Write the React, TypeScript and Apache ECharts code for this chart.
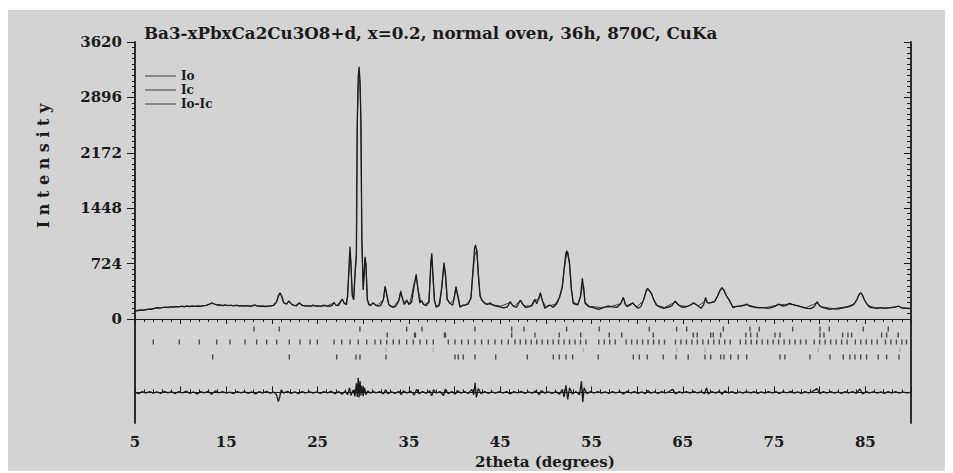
import React, { useEffect, useRef } from "react";
import * as echarts from "echarts";

const titleText = "Ba3-xPbxCa2Cu3O8+d, x=0.2, normal oven, 36h, 870C, CuKa";
const xTitle = "2theta (degrees)";
const yTitle = "I n t e n s i t y";
const yTicks = [0, 724, 1448, 2172, 2896, 3620];
const xLabelValues = [5, 15, 25, 35, 45, 55, 65, 75, 85];

// observed intensity [2theta, counts]
const io: number[][] = [
  [5.0,110],[5.3,105],[5.6,118],[5.9,112],[6.2,122],[6.5,128],[6.8,125],[7.1,138],[7.4,148],[7.7,142],
  [8.0,150],[8.3,156],[8.6,148],[8.9,160],[9.2,155],[9.5,163],[9.8,158],[10.1,168],[10.4,160],[10.7,170],
  [11.0,163],[11.3,172],[11.6,166],[11.9,170],[12.2,164],[12.5,175],[12.8,178],[13.1,190],[13.4,212],[13.7,196],
  [14.0,182],[14.3,186],[14.6,176],[14.9,184],[15.2,175],[15.5,182],[15.8,172],[16.1,180],[16.4,170],[16.7,176],
  [17.0,168],[17.3,174],[17.6,166],[17.9,175],[18.1,186],[18.4,170],[18.7,164],[19.0,170],[19.3,162],[19.6,168],
  [19.9,172],[20.2,178],[20.5,220],[20.75,310],[20.9,336],[21.05,300],[21.3,210],[21.6,196],[21.85,238],[22.1,200],
  [22.4,178],[22.7,172],[23.0,213],[23.3,180],[23.6,168],[23.9,174],[24.2,166],[24.5,183],[24.8,170],[25.1,172],
  [25.4,165],[25.7,183],[26.0,170],[26.3,166],[26.6,178],[26.8,218],[27.0,180],[27.3,176],[27.5,220],[27.7,261],
  [27.9,210],[28.1,188],[28.3,300],[28.45,700],[28.55,945],[28.65,720],[28.8,300],[28.95,250],[29.1,600],[29.25,862],
  [29.34,2535],[29.45,3170],[29.55,3297],[29.65,3100],[29.74,2644],[29.85,1033],[30.0,380],[30.1,600],[30.2,814],[30.3,700],
  [30.45,250],[30.6,190],[30.8,175],[31.1,213],[31.3,185],[31.6,170],[31.9,175],[32.2,250],[32.4,431],[32.55,330],
  [32.8,190],[33.0,165],[33.3,153],[33.6,170],[33.9,240],[34.1,349],[34.3,270],[34.5,190],[34.76,248],[35.0,190],
  [35.3,220],[35.6,450],[35.8,584],[36.0,380],[36.2,210],[36.4,240],[36.6,190],[36.9,175],[37.2,220],[37.4,700],
  [37.5,858],[37.6,650],[37.8,250],[38.0,153],[38.3,175],[38.6,400],[38.84,736],[39.0,600],[39.2,260],[39.5,205],
  [39.8,180],[40.0,300],[40.16,422],[40.3,330],[40.6,153],[40.9,180],[41.2,183],[41.5,195],[41.8,280],[42.0,600],
  [42.2,930],[42.3,967],[42.45,880],[42.6,600],[42.8,300],[43.0,248],[43.3,205],[43.6,190],[43.9,213],[44.2,180],
  [44.6,170],[45.0,160],[45.4,145],[45.8,160],[46.1,226],[46.4,170],[46.8,150],[47.2,248],[47.5,190],[47.8,150],
  [48.1,160],[48.4,170],[48.8,257],[49.0,200],[49.2,260],[49.4,344],[49.6,250],[49.9,140],[50.4,183],[50.8,153],
  [51.2,200],[51.5,283],[51.8,422],[52.0,650],[52.2,860],[52.3,893],[52.45,820],[52.6,728],[52.8,400],[53.0,205],
  [53.3,190],[53.5,183],[53.8,300],[54.0,532],[54.15,380],[54.3,205],[54.7,161],[55.2,150],[55.8,127],[56.3,150],
  [56.8,170],[57.3,158],[57.8,153],[58.2,200],[58.5,283],[58.7,190],[58.9,161],[59.2,180],[59.5,213],[59.8,170],
  [60.1,140],[60.4,160],[60.7,250],[61.0,370],[61.15,401],[61.3,380],[61.6,327],[61.8,260],[62.1,183],[62.4,160],
  [62.9,140],[63.4,155],[63.8,170],[64.15,235],[64.5,190],[64.9,153],[65.4,160],[65.8,180],[66.2,213],[66.5,185],
  [67.0,140],[67.3,190],[67.5,283],[67.7,210],[68.1,213],[68.5,230],[68.8,300],[69.1,380],[69.3,409],[69.5,380],
  [69.8,300],[70.1,248],[70.5,148],[70.9,165],[71.3,170],[71.7,180],[72.0,196],[72.3,170],[72.7,160],[73.1,150],
  [73.5,145],[73.9,150],[74.3,140],[74.7,150],[75.1,165],[75.5,196],[75.9,170],[76.3,175],[76.7,205],[77.0,190],
  [77.4,179],[77.8,165],[78.2,150],[78.6,140],[79.0,135],[79.4,160],[79.7,226],[80.0,170],[80.3,153],[80.7,140],
  [81.1,127],[81.5,135],[81.9,130],[82.3,140],[82.7,150],[83.1,160],[83.5,175],[83.8,200],[84.1,260],[84.3,320],
  [84.5,344],[84.7,310],[84.9,248],[85.2,190],[85.5,153],[85.9,145],[86.3,140],[86.7,150],[87.1,140],[87.5,145],
  [87.9,150],[88.3,155],[88.6,170],[88.9,150],[89.2,140],[89.6,140],[90.0,135],
];

// calculated intensity
const ic: number[][] = [
  [5.0,112],[6.0,118],[7.0,135],[8.0,150],[9.0,158],[10.0,163],[11.0,166],[12.0,168],[12.8,176],[13.2,195],
  [13.4,205],[13.7,192],[14.2,180],[15.0,178],[16.0,174],[17.0,171],[18.0,172],[18.1,180],[18.3,172],[19.0,167],
  [20.0,170],[20.5,230],[20.75,330],[20.9,345],[21.05,310],[21.3,210],[21.6,195],[21.85,230],[22.1,195],[22.5,175],
  [23.0,205],[23.3,178],[24.0,170],[25.0,170],[26.0,170],[26.8,210],[27.1,178],[27.7,255],[27.95,205],[28.2,190],
  [28.45,650],[28.55,880],[28.65,740],[28.8,320],[28.95,260],[29.1,560],[29.25,800],[29.34,2450],[29.45,3020],[29.55,3250],
  [29.65,3050],[29.74,2580],[29.85,1000],[30.0,420],[30.1,560],[30.2,780],[30.3,720],[30.45,260],[30.7,180],[31.1,205],
  [31.5,175],[32.2,250],[32.4,410],[32.55,340],[32.8,185],[33.3,160],[33.9,245],[34.1,370],[34.3,260],[34.6,200],
  [34.76,240],[35.1,200],[35.6,480],[35.8,560],[36.0,390],[36.3,220],[36.4,235],[36.7,185],[37.2,230],[37.4,740],
  [37.5,830],[37.6,620],[37.8,240],[38.0,165],[38.4,190],[38.6,430],[38.84,700],[39.0,560],[39.2,250],[39.5,200],
  [39.9,250],[40.16,400],[40.4,300],[40.6,165],[41.2,180],[41.8,260],[42.0,580],[42.2,820],[42.3,860],[42.45,900],
  [42.6,580],[42.8,300],[43.0,240],[43.5,200],[44.0,190],[45.0,165],[46.1,215],[46.5,165],[47.2,235],[47.6,170],
  [48.5,170],[48.8,245],[49.2,255],[49.4,330],[49.6,240],[50.0,165],[51.0,190],[51.5,280],[51.8,400],[52.0,640],
  [52.2,790],[52.3,860],[52.45,870],[52.6,700],[52.8,380],[53.0,220],[53.5,190],[53.8,290],[54.0,420],[54.15,430],
  [54.3,220],[54.8,165],[56.0,150],[57.0,158],[58.2,200],[58.5,270],[58.8,175],[59.5,205],[60.0,160],[60.7,240],
  [61.0,360],[61.15,390],[61.3,375],[61.6,320],[61.8,255],[62.2,180],[63.0,150],[64.15,220],[64.6,175],[65.5,165],
  [66.2,205],[66.7,170],[67.5,240],[67.8,205],[68.5,225],[68.8,290],[69.1,370],[69.3,400],[69.5,370],[69.8,295],
  [70.1,240],[70.5,160],[71.5,170],[72.0,185],[73.0,155],[74.0,148],[75.5,185],[76.7,195],[77.5,175],[78.5,148],
  [79.7,210],[80.2,160],[81.5,135],[83.0,160],[83.8,200],[84.1,255],[84.3,315],[84.5,335],[84.7,305],[84.9,245],
  [85.3,180],[86.0,148],[87.5,145],[88.6,165],[89.2,145],[90.0,138],
];

// difference Io-Ic
const diff: number[][] = [
  [5.0,0],[5.4,-15],[5.8,10],[6.2,-8],[6.6,12],[7.0,-10],[7.4,8],[7.8,-12],[8.2,15],[8.6,-5],
  [9.0,10],[9.4,-15],[9.8,12],[10.2,-8],[10.6,18],[11.0,-12],[11.4,6],[11.8,-20],[12.2,10],[12.6,-5],
  [13.0,15],[13.4,-25],[13.8,20],[14.2,-8],[14.6,12],[15.0,-10],[15.4,5],[15.8,-15],[16.2,12],[16.6,-6],
  [17.0,10],[17.4,-12],[17.8,8],[18.2,-20],[18.6,10],[19.0,-8],[19.4,14],[19.8,-10],[20.2,5],[20.5,-30],
  [20.7,-120],[20.85,-60],[21.0,30],[21.3,-10],[21.7,15],[22.1,-12],[22.5,8],[22.9,-15],[23.3,10],[23.7,-8],
  [24.1,12],[24.5,-10],[24.9,6],[25.3,-12],[25.7,10],[26.1,-6],[26.5,14],[26.9,-18],[27.3,10],[27.7,-25],
  [28.0,15],[28.3,-30],[28.5,60],[28.65,-40],[28.9,30],[29.1,-50],[29.25,120],[29.35,-60],[29.45,192],[29.55,-65],
  [29.65,150],[29.75,-40],[29.85,90],[30.0,-50],[30.15,60],[30.3,-30],[30.5,20],[30.8,-10],[31.1,15],[31.4,-8],
  [31.8,12],[32.2,-20],[32.45,35],[32.7,-15],[33.1,8],[33.5,-12],[33.9,15],[34.15,-30],[34.4,20],[34.8,-10],
  [35.2,15],[35.6,-35],[35.85,40],[36.1,-15],[36.5,10],[36.9,-12],[37.3,20],[37.5,-45],[37.7,35],[38.0,-10],
  [38.4,12],[38.8,-40],[39.0,45],[39.3,-15],[39.7,10],[40.1,-25],[40.3,25],[40.7,-10],[41.1,12],[41.5,-15],
  [41.9,40],[42.1,-30],[42.25,127],[42.4,-65],[42.6,50],[42.9,-15],[43.3,10],[43.7,-12],[44.1,8],[44.5,-10],
  [44.9,12],[45.3,-8],[45.7,10],[46.1,-20],[46.5,12],[46.9,-8],[47.3,15],[47.7,-12],[48.1,6],[48.5,-10],
  [48.9,20],[49.3,-30],[49.5,25],[49.9,-10],[50.3,8],[50.7,-12],[51.1,10],[51.5,-25],[51.8,40],[52.0,-60],
  [52.2,91],[52.4,-91],[52.6,60],[52.9,-20],[53.3,10],[53.7,-30],[53.9,148],[54.05,-127],[54.2,60],[54.5,-15],
  [54.9,10],[55.3,-8],[55.7,12],[56.1,-10],[56.5,6],[56.9,-12],[57.3,10],[57.7,-8],[58.1,12],[58.5,-20],
  [58.9,15],[59.3,-8],[59.7,10],[60.1,-12],[60.5,8],[60.9,-15],[61.2,25],[61.5,-10],[61.9,8],[62.3,-12],
  [62.7,10],[63.1,-8],[63.5,12],[63.9,40],[64.2,-20],[64.6,10],[65.0,-8],[65.4,12],[65.8,-10],[66.2,15],
  [66.6,-8],[67.0,10],[67.4,-15],[67.6,60],[67.8,-20],[68.2,12],[68.6,-10],[69.0,15],[69.3,-25],[69.6,20],
  [70.0,-8],[70.4,10],[70.8,-12],[71.2,8],[71.6,-10],[72.0,15],[72.4,-8],[72.8,10],[73.2,-12],[73.6,6],
  [74.0,-10],[74.4,12],[74.8,-8],[75.2,10],[75.6,-15],[76.0,12],[76.4,-8],[76.8,15],[77.2,-10],[77.6,8],
  [78.0,-12],[78.4,10],[78.8,-8],[79.2,12],[79.7,50],[80.0,-15],[80.4,10],[80.8,-8],[81.2,12],[81.6,-10],
  [82.0,8],[82.4,-12],[82.8,10],[83.2,-8],[83.6,12],[84.0,-15],[84.4,45],[84.7,-20],[85.1,10],[85.5,-8],
  [85.9,12],[86.3,-10],[86.7,8],[87.1,-12],[87.5,10],[87.9,-8],[88.3,12],[88.7,-10],[89.1,8],[89.5,-6],[90.0,0],
];

// reflection marker positions (2theta) per phase row
const rowA = [18.03,20.8,29.64,34.76,36.43,42.24,46.26,47.61,52.28,55.85,61.33,64.33,65.43,69.44,72.36,73.38,77.04,80.03,81.05,84.77,87.51];
const rowB = [32.63,35.62,35.72,38.9,39.0,46.26,48.81,51.47,53.82,56.95,58.31,61.77,66.15,66.59,68.06,68.34,69.15,71.92,72.44,73.16,75.1,75.65,80.03,80.47,82.51,83.09,83.5,86.78,87.33,88.6];
const rowC = [7.0,9.85,12.04,13.95,15.4,17.05,18.33,19.42,20.52,21.9,23.07,24.17,24.97,26.8,27.64,28.55,29.46,30.38,31.29,31.91,32.57,33.29,33.95,34.76,35.48,36.22,36.95,37.67,39.32,40.05,40.78,41.51,42.24,42.97,43.7,44.43,45.16,45.89,46.62,
  47.2,47.8,48.4,49.0,49.6,50.2,50.8,51.4,52.0,52.6,53.2,53.8,54.4,55.8,56.4,57.0,57.6,58.8,59.4,60.0,60.6,61.2,61.8,62.4,63.0,64.2,64.8,65.4,66.0,66.6,67.2,67.8,68.4,69.0,69.6,70.2,
  71.3,71.9,72.5,73.1,73.7,74.3,74.9,75.5,76.1,76.7,77.3,77.9,78.5,79.4,80.0,80.6,81.2,81.8,82.4,83.0,83.9,84.5,85.1,85.7,86.3,87.2,87.8,88.4,89.0,89.5];
const rowFaint = [32.49,37.67,54.1,64.33,67.43,79.84,88.79];
const rowD = [13.51,21.9,27.09,29.21,29.64,32.49,40.05,40.41,40.96,42.24,44.51,47.97,50.82,51.47,52.21,52.94,55.74,59.58,60.24,61.11,62.86,64.26,65.6,67.43,68.06,69.15,69.51,70.25,71.08,72.0,75.65,76.19,78.93,81.12,82.58,83.31,83.86,84.49,85.14,86.41,87.33,88.68];

// vertical level of each marker row on the lower panel's scale
const rowLevels = { A: 829, B: 751, C: 659, F: 555, D: 463 };

const BG = "#d3d3d3";
const INK = "#1a1a1a";
const FONT = "DejaVu Serif";

export default function App() {
  const ref = useRef<HTMLDivElement>(null);

  useEffect(() => {
    if (!ref.current) return;
    const chart = echarts.init(ref.current, undefined, { renderer: "svg" });

    const gridL = 127;
    const gridW = 776;
    const upper = { left: gridL, top: 32, width: gridW, height: 277 };
    const lower = { left: gridL, top: 309, width: gridW, height: 104 };

    const xBase = {
      type: "value" as const,
      min: 5,
      max: 90,
      interval: 5,
      splitLine: { show: false },
      axisLine: { show: true, lineStyle: { color: INK, width: 1.2 } },
    };

    const marker = (name: string, xs: number[], level: number, color: string) => ({
      name,
      type: "scatter",
      xAxisIndex: 2,
      yAxisIndex: 2,
      symbol: "rect",
      symbolSize: [1.4, 5],
      itemStyle: { color },
      silent: true,
      data: xs.map((x) => [x, level]),
    });

    const legendStyle = { color: "#6e6e6e", borderWidth: 0 };

    chart.setOption({
      animation: false,
      backgroundColor: BG,
      grid: [upper, lower],
      legend: {
        orient: "vertical",
        left: 137,
        top: 59,
        padding: 0,
        itemGap: 0,
        itemWidth: 31,
        itemHeight: 1.5,
        icon: "rect",
        textStyle: { fontFamily: FONT, fontSize: 12, fontWeight: "bold", color: INK, lineHeight: 14 },
        data: [
          { name: "Io", itemStyle: legendStyle, lineStyle: { color: "#6e6e6e" } },
          { name: "Ic", itemStyle: legendStyle, lineStyle: { color: "#6e6e6e" } },
          { name: "Io-Ic", itemStyle: legendStyle, lineStyle: { color: "#6e6e6e" } },
        ],
      },
      xAxis: [
        {
          ...xBase,
          gridIndex: 0,
          position: "bottom",
          axisLabel: { show: false },
          axisTick: { show: true, inside: false, length: 5, lineStyle: { color: INK } },
          minorTick: { show: true, splitNumber: 5, length: 3, lineStyle: { color: INK } },
        },
        {
          ...xBase,
          gridIndex: 0,
          position: "top",
          axisLabel: { show: false },
          axisTick: { show: true, inside: true, length: 5, lineStyle: { color: INK } },
          minorTick: { show: true, splitNumber: 5, length: 3, lineStyle: { color: INK } },
        },
        {
          ...xBase,
          gridIndex: 1,
          position: "bottom",
          axisTick: { show: true, inside: true, length: 6, lineStyle: { color: INK } },
          minorTick: { show: true, splitNumber: 5, length: 3, lineStyle: { color: INK } },
          axisLabel: {
            show: true,
            margin: 11,
            color: INK,
            fontFamily: FONT,
            fontSize: 15,
            fontWeight: "bold",
            showMinLabel: true,
            showMaxLabel: true,
            formatter: (v: number) => (xLabelValues.indexOf(v) >= 0 ? String(v) : ""),
          },
        },
      ],
      yAxis: [
        {
          type: "value",
          gridIndex: 0,
          position: "left",
          min: 0,
          max: 3620,
          interval: 724,
          splitLine: { show: false },
          axisLine: { show: true, lineStyle: { color: INK, width: 1.8 } },
          axisTick: { show: true, inside: false, length: 8, lineStyle: { color: INK } },
          minorTick: { show: true, splitNumber: 10, length: 3, lineStyle: { color: INK } },
          axisLabel: {
            margin: 13,
            color: INK,
            fontFamily: FONT,
            fontSize: 15,
            fontWeight: "bold",
            formatter: (v: number) => (yTicks.indexOf(v) >= 0 ? String(v) : ""),
          },
        },
        {
          type: "value",
          gridIndex: 0,
          position: "right",
          min: 0,
          max: 3620,
          interval: 724,
          splitLine: { show: false },
          axisLine: { show: true, lineStyle: { color: INK, width: 1.8 } },
          axisTick: { show: true, inside: true, length: 7, lineStyle: { color: INK } },
          minorTick: { show: true, splitNumber: 10, length: 4, lineStyle: { color: INK } },
          axisLabel: { show: false },
        },
        {
          type: "value",
          gridIndex: 1,
          position: "left",
          min: -400,
          max: 960,
          splitLine: { show: false },
          axisLine: { show: true, lineStyle: { color: INK, width: 1.8 } },
          axisTick: { show: false },
          axisLabel: { show: false },
        },
        {
          type: "value",
          gridIndex: 1,
          position: "right",
          min: -400,
          max: 960,
          splitLine: { show: false },
          axisLine: { show: true, lineStyle: { color: INK, width: 1.8 } },
          axisTick: { show: false },
          axisLabel: { show: false },
        },
      ],
      series: [
        {
          name: "Ic",
          type: "line",
          xAxisIndex: 0,
          yAxisIndex: 0,
          showSymbol: false,
          symbol: "none",
          lineStyle: { color: "#3a3a3a", width: 1 },
          itemStyle: { color: "#3a3a3a" },
          data: ic,
        },
        {
          name: "Io",
          type: "line",
          xAxisIndex: 0,
          yAxisIndex: 0,
          showSymbol: false,
          symbol: "none",
          lineStyle: { color: INK, width: 1.3 },
          itemStyle: { color: INK },
          data: io,
        },
        {
          name: "Io-Ic",
          type: "line",
          xAxisIndex: 2,
          yAxisIndex: 2,
          showSymbol: false,
          symbol: "none",
          lineStyle: { color: INK, width: 1.3 },
          itemStyle: { color: INK },
          data: diff,
        },
        marker("phase1", rowA, rowLevels.A, "#2a2a2a"),
        marker("phase2", rowB, rowLevels.B, "#2a2a2a"),
        marker("phase3", rowC, rowLevels.C, "#2a2a2a"),
        marker("phase4", rowFaint, rowLevels.F, "#a8a8a8"),
        marker("phase5", rowD, rowLevels.D, "#2a2a2a"),
      ],
      graphic: [
        {
          type: "text",
          left: 136,
          top: 14,
          style: { text: titleText, font: `bold 16.7px "${FONT}"`, fill: INK },
        },
        {
          type: "text",
          x: 35,
          y: 156,
          rotation: Math.PI / 2,
          style: {
            text: yTitle,
            font: `bold 16px "${FONT}"`,
            fill: INK,
            align: "center",
            verticalAlign: "middle",
          },
        },
        {
          type: "text",
          x: 537,
          y: 452,
          style: {
            text: xTitle,
            font: `bold 15px "${FONT}"`,
            fill: INK,
            align: "center",
            verticalAlign: "middle",
          },
        },
      ],
    });

    return () => chart.dispose();
  }, []);

  return (
    <div
      ref={ref}
      style={{ width: 945, height: 463, position: "relative", top: 2 }}
    />
  );
}
